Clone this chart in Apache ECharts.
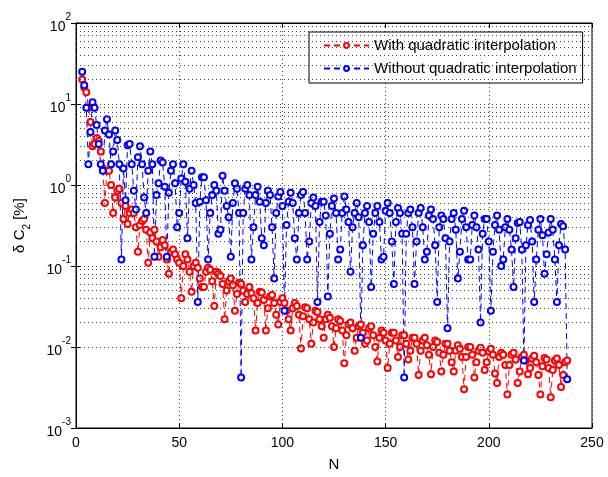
<!DOCTYPE html>
<html>
<head>
<meta charset="utf-8">
<script src="https://cdn.jsdelivr.net/npm/echarts@6/dist/echarts.min.js"></script>
<style>
  html, body { margin: 0; padding: 0; background: #fff; }
  #chart { width: 608px; height: 477px; }
</style>
</head>
<body>
<div id="chart"></div>
<script>
// N runs from 3 to 238, one value per N
const startN = 3

const withQuad = [
  20, 16, 14, 9, 6, 3, 3.2, 3.8, 3.5, 2.6,
  1.6, 0.6, 1.5, 1.5, 1.0, 0.45, 0.7, 0.85, 0.9, 0.6,
  0.38, 0.55, 0.33, 0.45, 0.5, 0.45, 0.3, 0.15, 0.32, 0.36,
  0.38, 0.28, 0.11, 0.26, 0.22, 0.28, 0.2, 0.13, 0.17, 0.21,
  0.18, 0.12, 0.08, 0.15, 0.16, 0.14, 0.12, 0.11, 0.04, 0.1,
  0.14, 0.12, 0.085, 0.048, 0.1, 0.11, 0.095, 0.07, 0.055, 0.055,
  0.085, 0.095, 0.09, 0.065, 0.032, 0.085, 0.08, 0.075, 0.06, 0.022,
  0.05, 0.065, 0.07, 0.058, 0.028, 0.045, 0.062, 0.06, 0.05, 0.036,
  0.045, 0.055, 0.046, 0.04, 0.016, 0.035, 0.048, 0.047, 0.038, 0.016,
  0.03, 0.042, 0.044, 0.035, 0.025, 0.019, 0.036, 0.04, 0.035, 0.028,
  0.022, 0.016, 0.03, 0.035, 0.032, 0.025, 0.0096, 0.024, 0.031, 0.03,
  0.022, 0.011, 0.02, 0.028, 0.027, 0.022, 0.018, 0.013, 0.022, 0.025,
  0.023, 0.018, 0.01, 0.017, 0.022, 0.021, 0.016, 0.0063, 0.014, 0.019,
  0.02, 0.017, 0.009, 0.013, 0.018, 0.019, 0.015, 0.011, 0.012, 0.017,
  0.018, 0.014, 0.01, 0.0066, 0.013, 0.016, 0.015, 0.012, 0.0055, 0.011,
  0.015, 0.015, 0.012, 0.0075, 0.01, 0.014, 0.014, 0.011, 0.007, 0.009,
  0.013, 0.013, 0.011, 0.0045, 0.009, 0.012, 0.013, 0.0105, 0.008, 0.0046,
  0.01, 0.012, 0.0115, 0.0085, 0.005, 0.008, 0.011, 0.011, 0.009, 0.0065,
  0.005, 0.009, 0.0105, 0.0095, 0.0075, 0.003, 0.0075, 0.01, 0.01, 0.008,
  0.0042, 0.0065, 0.009, 0.0098, 0.0085, 0.0052, 0.0065, 0.0088, 0.0095, 0.008,
  0.0047, 0.0036, 0.0075, 0.0085, 0.008, 0.006, 0.0026, 0.006, 0.008, 0.0085,
  0.007, 0.0036, 0.005, 0.0075, 0.008, 0.0068, 0.0046, 0.0055, 0.0072, 0.0078,
  0.0065, 0.0045, 0.0026, 0.0058, 0.0073, 0.007, 0.0055, 0.0024, 0.0052, 0.0068,
  0.0072, 0.006, 0.0032, 0.0045, 0.0065, 0.0068
]

const withoutQuad = [
  25, 17, 9, 1.8, 4.5, 10.5, 9, 5.5, 3.2, 1.8,
  1.5, 4.7, 6.5, 4.2, 1.8, 2.6, 4.7, 3.6, 1.8, 0.12,
  1.6, 0.65, 3.1, 3.2, 1.8, 0.85, 0.5, 2.2, 3.0, 1.8,
  0.7, 0.45, 1.5, 2.6, 1.8, 0.13, 0.75, 1.05, 2.0, 1.9,
  0.95, 0.13, 0.8, 1.5, 1.8, 1.05, 0.3, 0.45, 1.2, 1.8,
  1.1, 0.22, 0.9, 1.5, 1.0, 0.6, 0.036, 0.62, 1.25, 1.25,
  0.65, 0.12, 0.45, 0.75, 1.0, 0.85, 0.25, 0.28, 1.3, 0.85,
  0.55, 0.4, 0.13, 0.6, 1.05, 0.9, 0.45, 0.0042, 0.45, 0.9,
  1.0, 0.75, 0.12, 0.3, 0.75, 0.95, 0.62, 0.22, 0.18, 0.6,
  0.85, 0.75, 0.3, 0.07, 0.45, 0.72, 0.82, 0.55, 0.028, 0.32,
  0.62, 0.8, 0.6, 0.22, 0.12, 0.45, 0.75, 0.82, 0.45, 0.12,
  0.2, 0.6, 0.7, 0.55, 0.036, 0.35, 0.62, 0.62, 0.42, 0.042,
  0.25, 0.55, 0.68, 0.45, 0.12, 0.16, 0.45, 0.72, 0.5, 0.35,
  0.085, 0.3, 0.45, 0.6, 0.4, 0.013, 0.18, 0.45, 0.55, 0.35,
  0.055, 0.25, 0.45, 0.55, 0.35, 0.12, 0.13, 0.48, 0.6, 0.45,
  0.2, 0.06, 0.35, 0.52, 0.45, 0.25, 0.0042, 0.25, 0.45, 0.5,
  0.3, 0.06, 0.2, 0.45, 0.52, 0.3, 0.12, 0.15, 0.42, 0.5,
  0.38, 0.18, 0.036, 0.3, 0.42, 0.38, 0.22, 0.017, 0.2, 0.38,
  0.45, 0.28, 0.07, 0.15, 0.38, 0.48, 0.3, 0.12, 0.12, 0.32,
  0.42, 0.3, 0.16, 0.02, 0.25, 0.38, 0.38, 0.2, 0.028, 0.15,
  0.32, 0.42, 0.28, 0.1, 0.12, 0.3, 0.38, 0.28, 0.16, 0.055,
  0.22, 0.34, 0.35, 0.16, 0.0068, 0.18, 0.32, 0.37, 0.2, 0.036,
  0.12, 0.28, 0.38, 0.24, 0.08, 0.14, 0.26, 0.38, 0.28, 0.12,
  0.036, 0.18, 0.33, 0.31, 0.16, 0.004
]

const seriesNames = ['With quadratic interpolation', 'Without quadratic interpolation']
const seriesColors = ['#ff0000', '#0000ff']

// minor log grid lines (2..9 in each decade)
const decades = [0.001, 0.01, 0.1, 1, 10]
const minorSteps = [2, 3, 4, 5, 6, 7, 8, 9]
const minorGrid = []
decades.forEach(d => minorSteps.forEach(m => minorGrid.push({ yAxis: +(d * m).toPrecision(3) })))

const toPairs = arr => arr.map((v, i) => [startN + i, v])

const font = 'Liberation Sans, Arial, sans-serif'
const gridDots = { color: '#444', width: 1, type: [1, 3] }

const chart = echarts.init(document.getElementById('chart'))

function lineSeries(name, color, data) {
  return {
    name: name,
    type: 'line',
    data: toPairs(data),
    symbol: 'emptyCircle',
    symbolSize: 6,
    showSymbol: true,
    showAllSymbol: true,
    z: 3,
    itemStyle: { color: color, borderColor: color, borderWidth: 1 },
    lineStyle: { color: color, width: 1, type: [6, 4] }
  }
}

const option = {
  animation: false,
  backgroundColor: '#fff',
  textStyle: { fontFamily: font },
  grid: {
    left: 76,
    right: 16,
    top: 23,
    bottom: 44,
    show: true,
    borderColor: '#000',
    borderWidth: 1
  },
  legend: {
    data: seriesNames,
    orient: 'vertical',
    left: 309,
    top: 32,
    padding: [6, 6, 7, 14],
    itemWidth: 45,
    itemHeight: 6,
    itemGap: 8,
    backgroundColor: '#fff',
    borderColor: '#000',
    borderWidth: 1,
    textStyle: { fontFamily: font, fontSize: 15, color: '#000' }
  },
  xAxis: [{
    type: 'value',
    min: 0,
    max: 250,
    interval: 50,
    name: 'N',
    nameLocation: 'middle',
    nameGap: 29,
    nameTextStyle: { fontFamily: font, fontSize: 15, color: '#000' },
    axisLine: { lineStyle: { color: '#000' } },
    axisTick: { inside: true, length: 5, lineStyle: { color: '#000' } },
    axisLabel: { color: '#000', fontSize: 14, margin: 8 },
    splitLine: { show: true, lineStyle: gridDots }
  }, {
    type: 'value',
    position: 'top',
    min: 0,
    max: 250,
    interval: 50,
    axisLine: { lineStyle: { color: '#000' } },
    axisTick: { inside: true, length: 5, lineStyle: { color: '#000' } },
    axisLabel: { show: false },
    splitLine: { show: false }
  }],
  yAxis: [{
    type: 'log',
    logBase: 10,
    min: 0.001,
    max: 100,
    name: '{a|δ C}{sub|2}{a| [%]}',
    nameLocation: 'middle',
    nameGap: 44,
    nameRotate: 90,
    nameTextStyle: {
      color: '#000',
      rich: {
        a: { fontFamily: font, fontSize: 15, color: '#000', lineHeight: 20, verticalAlign: 'top' },
        sub: { fontFamily: font, fontSize: 10, color: '#000', lineHeight: 20, verticalAlign: 'bottom' }
      }
    },
    axisLine: { lineStyle: { color: '#000' } },
    axisTick: { inside: true, length: 5, lineStyle: { color: '#000' } },
    axisLabel: {
      margin: 5,
      formatter: v => '{b|10}{sup|' + Math.round(Math.log10(v)) + '}',
      rich: {
        b: { fontFamily: font, fontSize: 14, color: '#000', lineHeight: 22, verticalAlign: 'bottom' },
        sup: { fontFamily: font, fontSize: 10, color: '#000', lineHeight: 22, verticalAlign: 'top' }
      }
    },
    splitLine: { show: true, lineStyle: gridDots }
  }, {
    type: 'log',
    logBase: 10,
    min: 0.001,
    max: 100,
    position: 'right',
    axisLine: { lineStyle: { color: '#000' } },
    axisTick: { inside: true, length: 5, lineStyle: { color: '#000' } },
    axisLabel: { show: false },
    splitLine: { show: false }
  }],
  series: [
    {
      name: 'minor grid',
      type: 'line',
      data: [],
      z: 1,
      silent: true,
      markLine: {
        silent: true,
        symbol: 'none',
        animation: false,
        label: { show: false },
        lineStyle: gridDots,
        data: minorGrid
      }
    },
    lineSeries(seriesNames[0], seriesColors[0], withQuad),
    lineSeries(seriesNames[1], seriesColors[1], withoutQuad)
  ]
}

chart.setOption(option)
</script>
</body>
</html>
